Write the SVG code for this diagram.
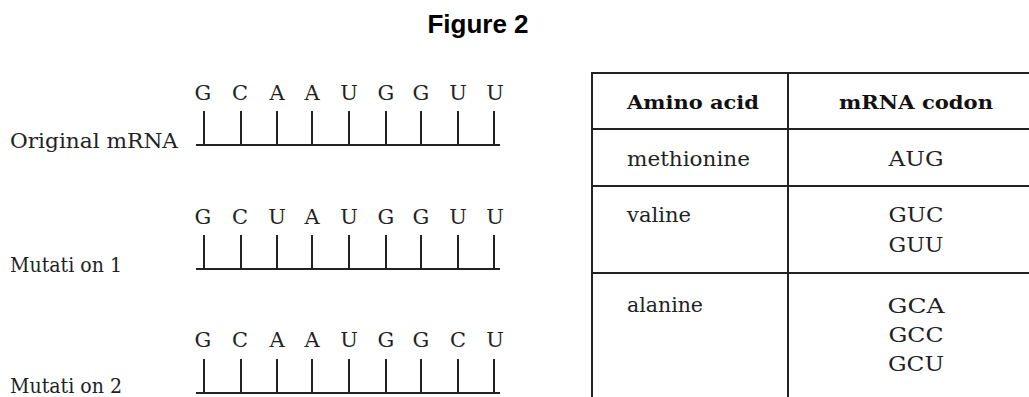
<svg xmlns="http://www.w3.org/2000/svg" width="1029" height="397" viewBox="0 0 1029 397">
  <style>
    .title { font-family: "Liberation Sans", Arial, sans-serif; font-weight: bold; font-size: 26px; fill: #000; }
    .lbl { font-family: "DejaVu Serif", "Liberation Serif", serif; font-size: 20px; fill: #222; }
    .base { font-family: "DejaVu Serif", "Liberation Serif", serif; font-size: 21px; fill: #222; text-anchor: middle; }
    .hdr { font-family: "DejaVu Serif", "Liberation Serif", serif; font-weight: bold; font-size: 19px; fill: #111; }
    .cell { font-family: "DejaVu Serif", "Liberation Serif", serif; font-size: 20px; fill: #222; }
    .mid { text-anchor: middle; }
    .ln { stroke: #222; stroke-width: 2; fill: none; }
    .grid { stroke: #222; stroke-width: 2; fill: none; }
  </style>

  <text class="title" x="478" y="33" text-anchor="middle">Figure 2</text>

  <!-- a strand: 9 bases with ticks on a baseline -->
  <defs>
    <path id="ticks" class="ln" d="M196,34 H500 M204,0 V34 M241,0 V34 M277,0 V34 M312,0 V34 M349,0 V34 M386,0 V34 M421,0 V34 M458,0 V34 M494,0 V34"/>
  </defs>

  <g id="original">
    <text class="lbl" x="10" y="148" textLength="168" lengthAdjust="spacingAndGlyphs">Original mRNA</text>
    <g class="base">
      <text x="203" y="100">G</text><text x="240" y="100">C</text><text x="277" y="100">A</text>
      <text x="312" y="100">A</text><text x="349" y="100">U</text><text x="386" y="100">G</text>
      <text x="421" y="100">G</text><text x="458" y="100">U</text><text x="495" y="100">U</text>
    </g>
    <use href="#ticks" y="111"/>
  </g>

  <g id="mutation1">
    <text class="lbl" x="10" y="272" textLength="112" lengthAdjust="spacingAndGlyphs">Mutati on 1</text>
    <g class="base">
      <text x="203" y="224">G</text><text x="240" y="224">C</text><text x="277" y="224">U</text>
      <text x="312" y="224">A</text><text x="349" y="224">U</text><text x="386" y="224">G</text>
      <text x="421" y="224">G</text><text x="458" y="224">U</text><text x="495" y="224">U</text>
    </g>
    <use href="#ticks" y="235"/>
  </g>

  <g id="mutation2">
    <text class="lbl" x="10" y="393" textLength="112" lengthAdjust="spacingAndGlyphs">Mutati on 2</text>
    <g class="base">
      <text x="203" y="347">G</text><text x="240" y="347">C</text><text x="277" y="347">A</text>
      <text x="312" y="347">A</text><text x="349" y="347">U</text><text x="386" y="347">G</text>
      <text x="421" y="347">G</text><text x="458" y="347">C</text><text x="495" y="347">U</text>
    </g>
    <use href="#ticks" y="359"/>
  </g>

  <!-- codon table -->
  <g id="codon-table">
    <path class="grid" d="M592,400 V73 H1040 M788,73 V400 M592,129 H1040 M592,186 H1040 M592,273 H1040"/>
    <text class="hdr" x="627" y="109" textLength="132" lengthAdjust="spacingAndGlyphs">Amino acid</text>
    <text class="hdr mid" x="916" y="109" textLength="154" lengthAdjust="spacingAndGlyphs">mRNA codon</text>
    <text class="cell" x="627" y="166" textLength="123" lengthAdjust="spacingAndGlyphs">methionine</text>
    <text class="cell mid" x="916" y="166" textLength="55" lengthAdjust="spacingAndGlyphs">AUG</text>
    <text class="cell" x="627" y="222" textLength="64" lengthAdjust="spacingAndGlyphs">valine</text>
    <text class="cell mid" x="916" y="222" textLength="55" lengthAdjust="spacingAndGlyphs">GUC</text>
    <text class="cell mid" x="916" y="252" textLength="55" lengthAdjust="spacingAndGlyphs">GUU</text>
    <text class="cell" x="627" y="312" textLength="76" lengthAdjust="spacingAndGlyphs">alanine</text>
    <text class="cell mid" x="916" y="313" textLength="57" lengthAdjust="spacingAndGlyphs">GCA</text>
    <text class="cell mid" x="916" y="342" textLength="55" lengthAdjust="spacingAndGlyphs">GCC</text>
    <text class="cell mid" x="916" y="371" textLength="56" lengthAdjust="spacingAndGlyphs">GCU</text>
  </g>
</svg>
